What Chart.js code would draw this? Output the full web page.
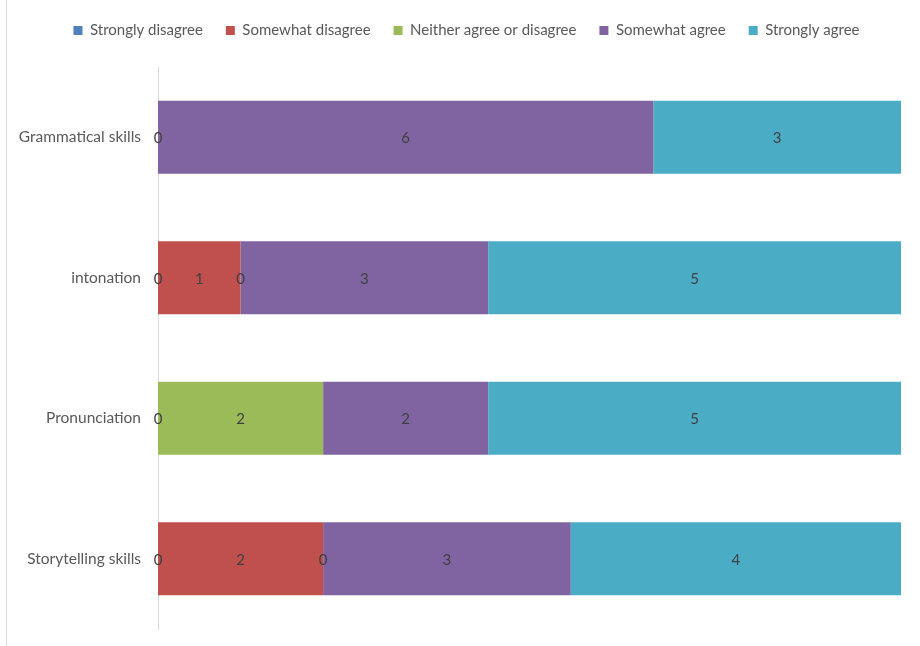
<!DOCTYPE html>
<html>
<head>
<meta charset="utf-8">
<script src="https://cdn.jsdelivr.net/npm/chart.js@4/dist/chart.umd.min.js"></script>
<style>
  html, body { margin: 0; padding: 0; background: #ffffff; }
  #wrap { width: 920px; height: 646px; position: relative; }
</style>
</head>
<body>
<div id="wrap"><canvas id="c" width="920" height="646"></canvas></div>
<script>
// ---- data ----
const categories = ["Grammatical skills", "intonation", "Pronunciation", "Storytelling skills"];
const seriesNames = ["Strongly disagree", "Somewhat disagree", "Neither agree or disagree", "Somewhat agree", "Strongly agree"];
const stronglyDisagree = [0, 0, 0, 0];
const somewhatDisagree = [null, 1, null, 2];
const neitherAgree = [null, 0, 2, 0];
const somewhatAgree = [6, 3, 2, 3];
const stronglyAgree = [3, 5, 5, 4];
const seriesColors = ["#4F81BD", "#C0504D", "#9BBB59", "#8064A2", "#4BACC6"];
const axisMax = 9;

const FONT = "Lato, 'Open Sans', 'DejaVu Sans', sans-serif";

const seriesData = [stronglyDisagree, somewhatDisagree, neitherAgree, somewhatAgree, stronglyAgree];
const datasets = seriesNames.map((name, i) => ({
  label: name,
  data: seriesData[i],
  backgroundColor: seriesColors[i],
  borderWidth: 0,
  categoryPercentage: 1.0,
  barPercentage: 0.52
}));

const valueLabels = {
  id: 'valueLabels',
  afterDatasetsDraw(chart) {
    const ctx = chart.ctx;
    ctx.save();
    ctx.font = "15px " + FONT;
    ctx.fillStyle = "#404040";
    ctx.textAlign = "center";
    ctx.textBaseline = "middle";
    chart.data.datasets.forEach((ds, di) => {
      const meta = chart.getDatasetMeta(di);
      meta.data.forEach((el, i) => {
        const v = ds.data[i];
        if (v === null || v === undefined) return;
        const p = el.getCenterPoint();
        ctx.fillText(String(v), p.x, p.y + 1);
      });
    });
    ctx.restore();
  }
};

const legendTweak = {
  id: 'legendTweak',
  beforeLayout(chart) {
    const lg = chart.legend;
    if (lg && !lg._patched) {
      const orig = lg.fit;
      lg.fit = function() { orig.call(this); this.height = 67; };
      lg._patched = true;
    }
  },
  afterLayout(chart) {
    const lg = chart.legend;
    if (lg) { lg.left += 16; lg.right += 16; }
  }
};

const frame = {
  id: 'frame',
  beforeDraw(chart) {
    const ctx = chart.ctx;
    ctx.save();
    ctx.strokeStyle = "#d9d9d9";
    ctx.lineWidth = 1;
    ctx.beginPath();
    ctx.moveTo(6.5, 0);
    ctx.lineTo(6.5, 646);
    ctx.stroke();
    ctx.restore();
  }
};

new Chart(document.getElementById('c'), {
  type: 'bar',
  data: { labels: categories, datasets: datasets },
  plugins: [valueLabels, legendTweak, frame],
  options: {
    indexAxis: 'y',
    responsive: false,
    animation: false,
    layout: { padding: { left: 0, right: 19, top: 0, bottom: 17 } },
    plugins: {
      legend: {
        position: 'top',
        labels: {
          boxWidth: 9,
          boxHeight: 9,
          padding: 23,
          color: "#595959",
          font: { size: 15, family: FONT }
        }
      },
      tooltip: { enabled: false }
    },
    scales: {
      x: {
        stacked: true,
        min: 0,
        max: axisMax,
        display: false,
        ticks: { display: false },
        grid: { display: false, drawTicks: false },
        border: { display: false }
      },
      y: {
        stacked: true,
        afterFit(scale) {
          scale.width = 158;
          scale.paddingTop = 0;
          scale.paddingBottom = 0;
        },
        grid: { display: false, drawTicks: false },
        border: { display: true, color: "#d9d9d9", width: 1 },
        ticks: {
          color: "#595959",
          padding: 17,
          font: { size: 15.5, family: FONT }
        }
      }
    }
  }
});
</script>
</body>
</html>
